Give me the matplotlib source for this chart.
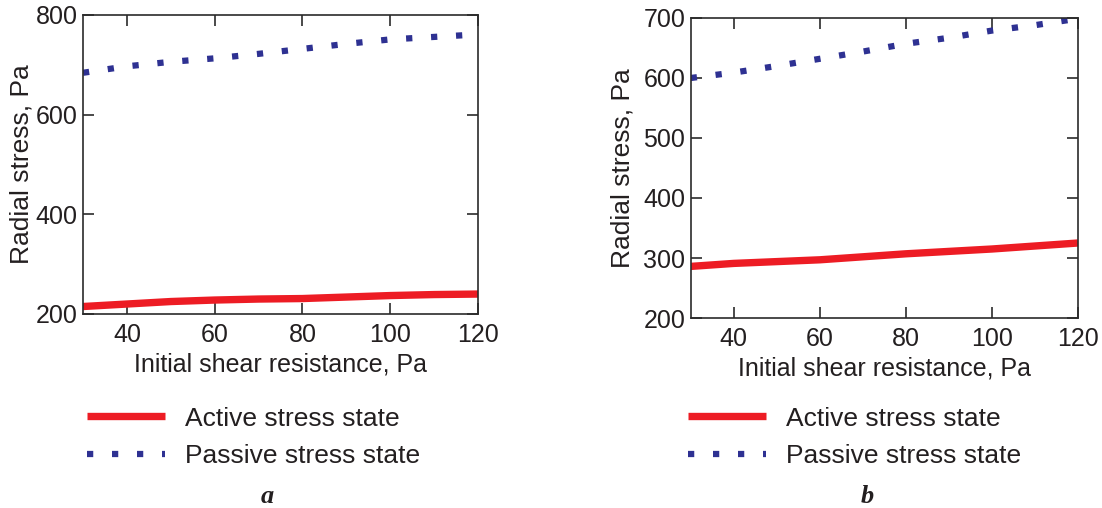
import matplotlib
matplotlib.use("Agg")
import matplotlib.pyplot as plt
from matplotlib.lines import Line2D

plt.rcParams['font.family'] = ['Liberation Sans', 'DejaVu Sans']

# Panel a
xa = [30, 40, 50, 60, 70, 80, 90, 100, 110, 120]
active_a = [215, 220, 225, 228, 230, 231, 234, 237, 239, 240]
passive_a = [684, 697, 706, 713, 722, 732, 742, 751, 756, 761]

# Panel b
xb = [30, 40, 50, 60, 70, 80, 90, 100, 110, 120]
active_b = [286, 291, 294, 297, 302, 307, 311, 315, 320, 325]
passive_b = [600, 609, 620, 632, 644, 657, 667, 679, 688, 699]

xticks = [40, 60, 80, 100, 120]
yticks_a = [200, 400, 600, 800]
yticks_b = [200, 300, 400, 500, 600, 700]

labels = ["Active stress state", "Passive stress state"]
panel_tags = ["a", "b"]

RED = "#ED1C24"
BLUE = "#2E3192"
SPINE = "#2b2b2b"
TXT = "#231f20"

fig = plt.figure(figsize=(11.02, 5.08), dpi=100)

axa = fig.add_axes([0.0753, 0.3819, 0.3585, 0.5886])
axb = fig.add_axes([0.6268, 0.374, 0.3514, 0.5906])

def style(ax, x, act, pas, yt, ylim, ylp):
    ax.plot(x, act, color=RED, lw=5.3, solid_capstyle='butt')
    ax.plot(x, pas, color=BLUE, lw=4.5, linestyle=(0, (1, 3)), dash_capstyle='butt')
    ax.set_xlim(30, 120)
    ax.set_ylim(*ylim)
    ax.set_xticks(xticks)
    ax.set_yticks(yt)
    ax.tick_params(direction='in', length=8, width=1.2, color=SPINE,
                   top=True, right=True, labelsize=18, labelcolor=TXT)
    ax.tick_params(axis='x', pad=6.5)
    ax.tick_params(axis='y', pad=4)
    for s in ax.spines.values():
        s.set_color(SPINE)
        s.set_linewidth(1.2)
    ax.set_xlabel("Initial shear resistance, Pa", fontsize=18, color=TXT, labelpad=4)
    ax.set_ylabel("Radial stress, Pa", fontsize=19, color=TXT, labelpad=ylp)

style(axa, xa, active_a, passive_a, yticks_a, (200, 800), 1.5)
style(axb, xb, active_b, passive_b, yticks_b, (200, 700), 6)

handles = [Line2D([], [], color=RED, lw=5.3, solid_capstyle='butt'),
           Line2D([], [], color=BLUE, lw=4.5, linestyle=(0, (1, 3)), dash_capstyle='butt')]

for ax, lx, tag, tx in [(axa, 87 / 1102, panel_tags[0], 267 / 1102),
                        (axb, 688 / 1102, panel_tags[1], 867 / 1102)]:
    leg = ax.legend(handles, labels, loc='center left', bbox_to_anchor=(lx, 1 - 437.5 / 508),
                    bbox_transform=fig.transFigure, frameon=False, fontsize=19,
                    handlelength=2.95, handletextpad=0.76, labelspacing=0.53,
                    borderpad=0, borderaxespad=0)
    for t in leg.get_texts():
        t.set_color(TXT)
    fig.text(tx, 5 / 508, tag, fontsize=19, fontstyle='italic', fontweight='bold',
             family='Liberation Serif', ha='center', va='baseline', color=TXT)

fig.savefig("out.png", dpi=100)
